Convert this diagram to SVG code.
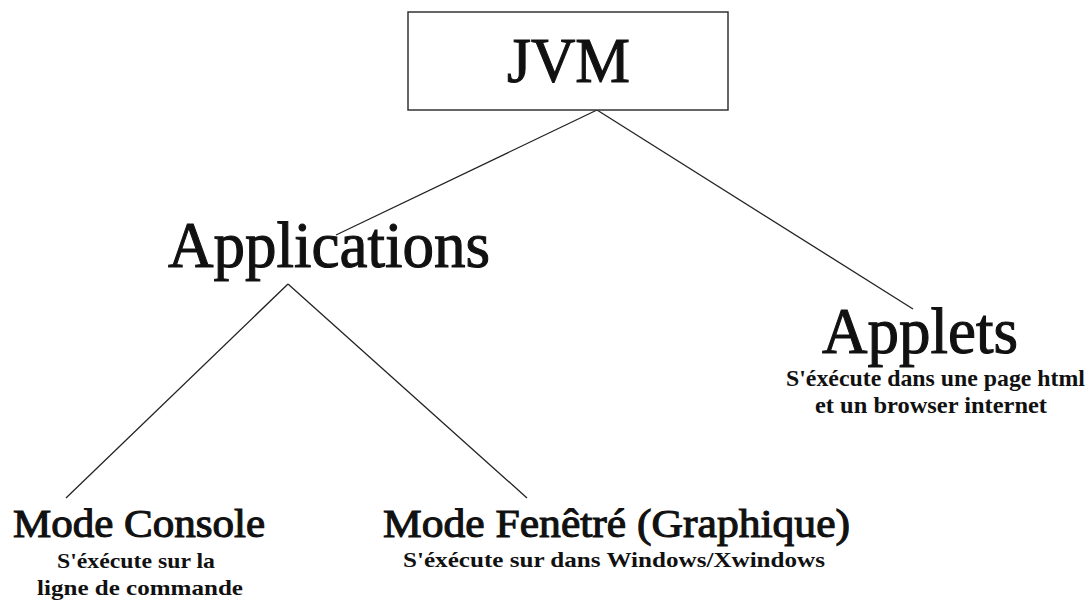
<svg xmlns="http://www.w3.org/2000/svg" width="1091" height="601" viewBox="0 0 1091 601">
<style>
.t{font-family:"Liberation Serif","DejaVu Serif",serif;fill:#111;stroke:#111;stroke-width:1.1}
.s{font-family:"Liberation Serif","DejaVu Serif",serif;font-weight:bold;fill:#111}
.c{stroke:#222;stroke-width:1.3;fill:none}
</style>
<rect width="1091" height="601" fill="#fff"/>
<g id="connectors">
<line class="c" x1="597" y1="110" x2="336" y2="235"/>
<line class="c" x1="597" y1="110" x2="913" y2="309"/>
<line class="c" x1="288" y1="284" x2="66" y2="498"/>
<line class="c" x1="288" y1="284" x2="527" y2="498"/>
</g>
<g id="jvm">
<rect x="408" y="12" width="320" height="98" fill="#fff" stroke="#333" stroke-width="1.5"/>
<text class="t" x="507" y="82" font-size="64" textLength="123" lengthAdjust="spacingAndGlyphs">JVM</text>
</g>
<g id="applications">
<text class="t" x="168" y="267" font-size="66" textLength="322" lengthAdjust="spacingAndGlyphs">Applications</text>
</g>
<g id="applets">
<text class="t" x="822" y="353" font-size="66" textLength="196" lengthAdjust="spacingAndGlyphs">Applets</text>
<text class="s" x="786" y="386" font-size="24" textLength="299" lengthAdjust="spacingAndGlyphs">S'éxécute dans une page html</text>
<text class="s" x="815" y="413" font-size="24" textLength="232" lengthAdjust="spacingAndGlyphs">et un browser internet</text>
</g>
<g id="console">
<text class="t" x="13" y="537" font-size="40" textLength="252" lengthAdjust="spacingAndGlyphs">Mode Console</text>
<text class="s" x="57" y="568" font-size="22" textLength="158" lengthAdjust="spacingAndGlyphs">S'éxécute sur la</text>
<text class="s" x="37" y="595" font-size="22" textLength="206" lengthAdjust="spacingAndGlyphs">ligne de commande</text>
</g>
<g id="fenetre">
<text class="t" x="383" y="537" font-size="40" textLength="467" lengthAdjust="spacingAndGlyphs">Mode Fenêtré (Graphique)</text>
<text class="s" x="403" y="567" font-size="22" textLength="422" lengthAdjust="spacingAndGlyphs">S'éxécute sur dans Windows/Xwindows</text>
</g>
</svg>
